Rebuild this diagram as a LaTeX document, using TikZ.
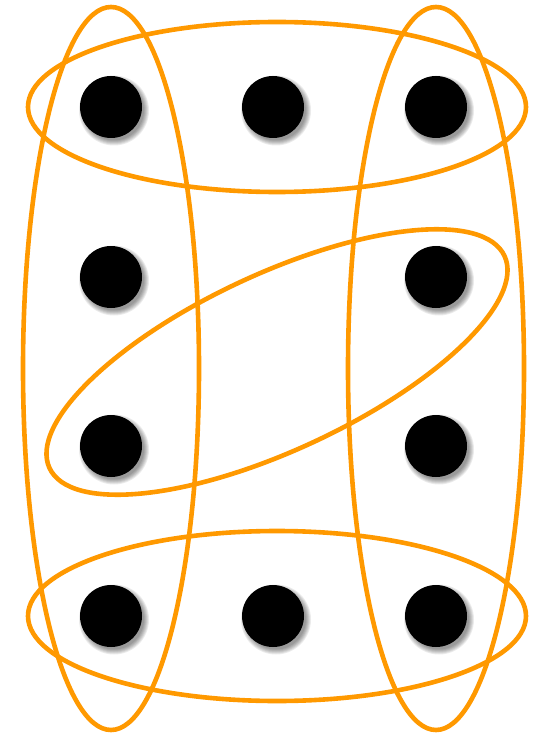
\documentclass[tikz,border=0pt]{standalone}
\usetikzlibrary{shapes.geometric}
\definecolor{ringorange}{HTML}{FF9900}
\tikzset{
  dotnode/.style={circle, fill=black, inner sep=0pt, minimum size=62pt},
  ring/.style={draw=ringorange, line width=4.6pt},
}
\begin{document}
\begin{tikzpicture}[x=1pt,y=-1pt]
\useasboundingbox (0,0) rectangle (533,735);
\fill[white] (0,0) rectangle (533,735);
% blurred shadows
\foreach \px/\py in {111/107,273/107,436/107,111/277,436/277,111/446,436/446,111/616,273/616,436/616}{
  \foreach \r in {35,34,33,32,31,30}{
    \fill[black, opacity=0.08] (\px+3,\py+3.5) circle[radius=\r pt];
  }
}
% dots
\node[dotnode] (a1) at (111,107) {};
\node[dotnode] (a2) at (273,107) {};
\node[dotnode] (a3) at (436,107) {};
\node[dotnode] (b1) at (111,277) {};
\node[dotnode] (b3) at (436,277) {};
\node[dotnode] (c1) at (111,446) {};
\node[dotnode] (c3) at (436,446) {};
\node[dotnode] (d1) at (111,616) {};
\node[dotnode] (d2) at (273,616) {};
\node[dotnode] (d3) at (436,616) {};
% rings
\draw[ring] (277,107) ellipse [x radius=249, y radius=85];
\draw[ring] (277,616) ellipse [x radius=249, y radius=85];
\draw[ring] (111,368.5) ellipse [x radius=88, y radius=361.5];
\draw[ring] (436,368.5) ellipse [x radius=88, y radius=361.5];
\begin{scope}[shift={(277,362)}, rotate=25]
\draw[ring] (0,0) ellipse [x radius=251, y radius=88];
\end{scope}
\end{tikzpicture}
\end{document}
